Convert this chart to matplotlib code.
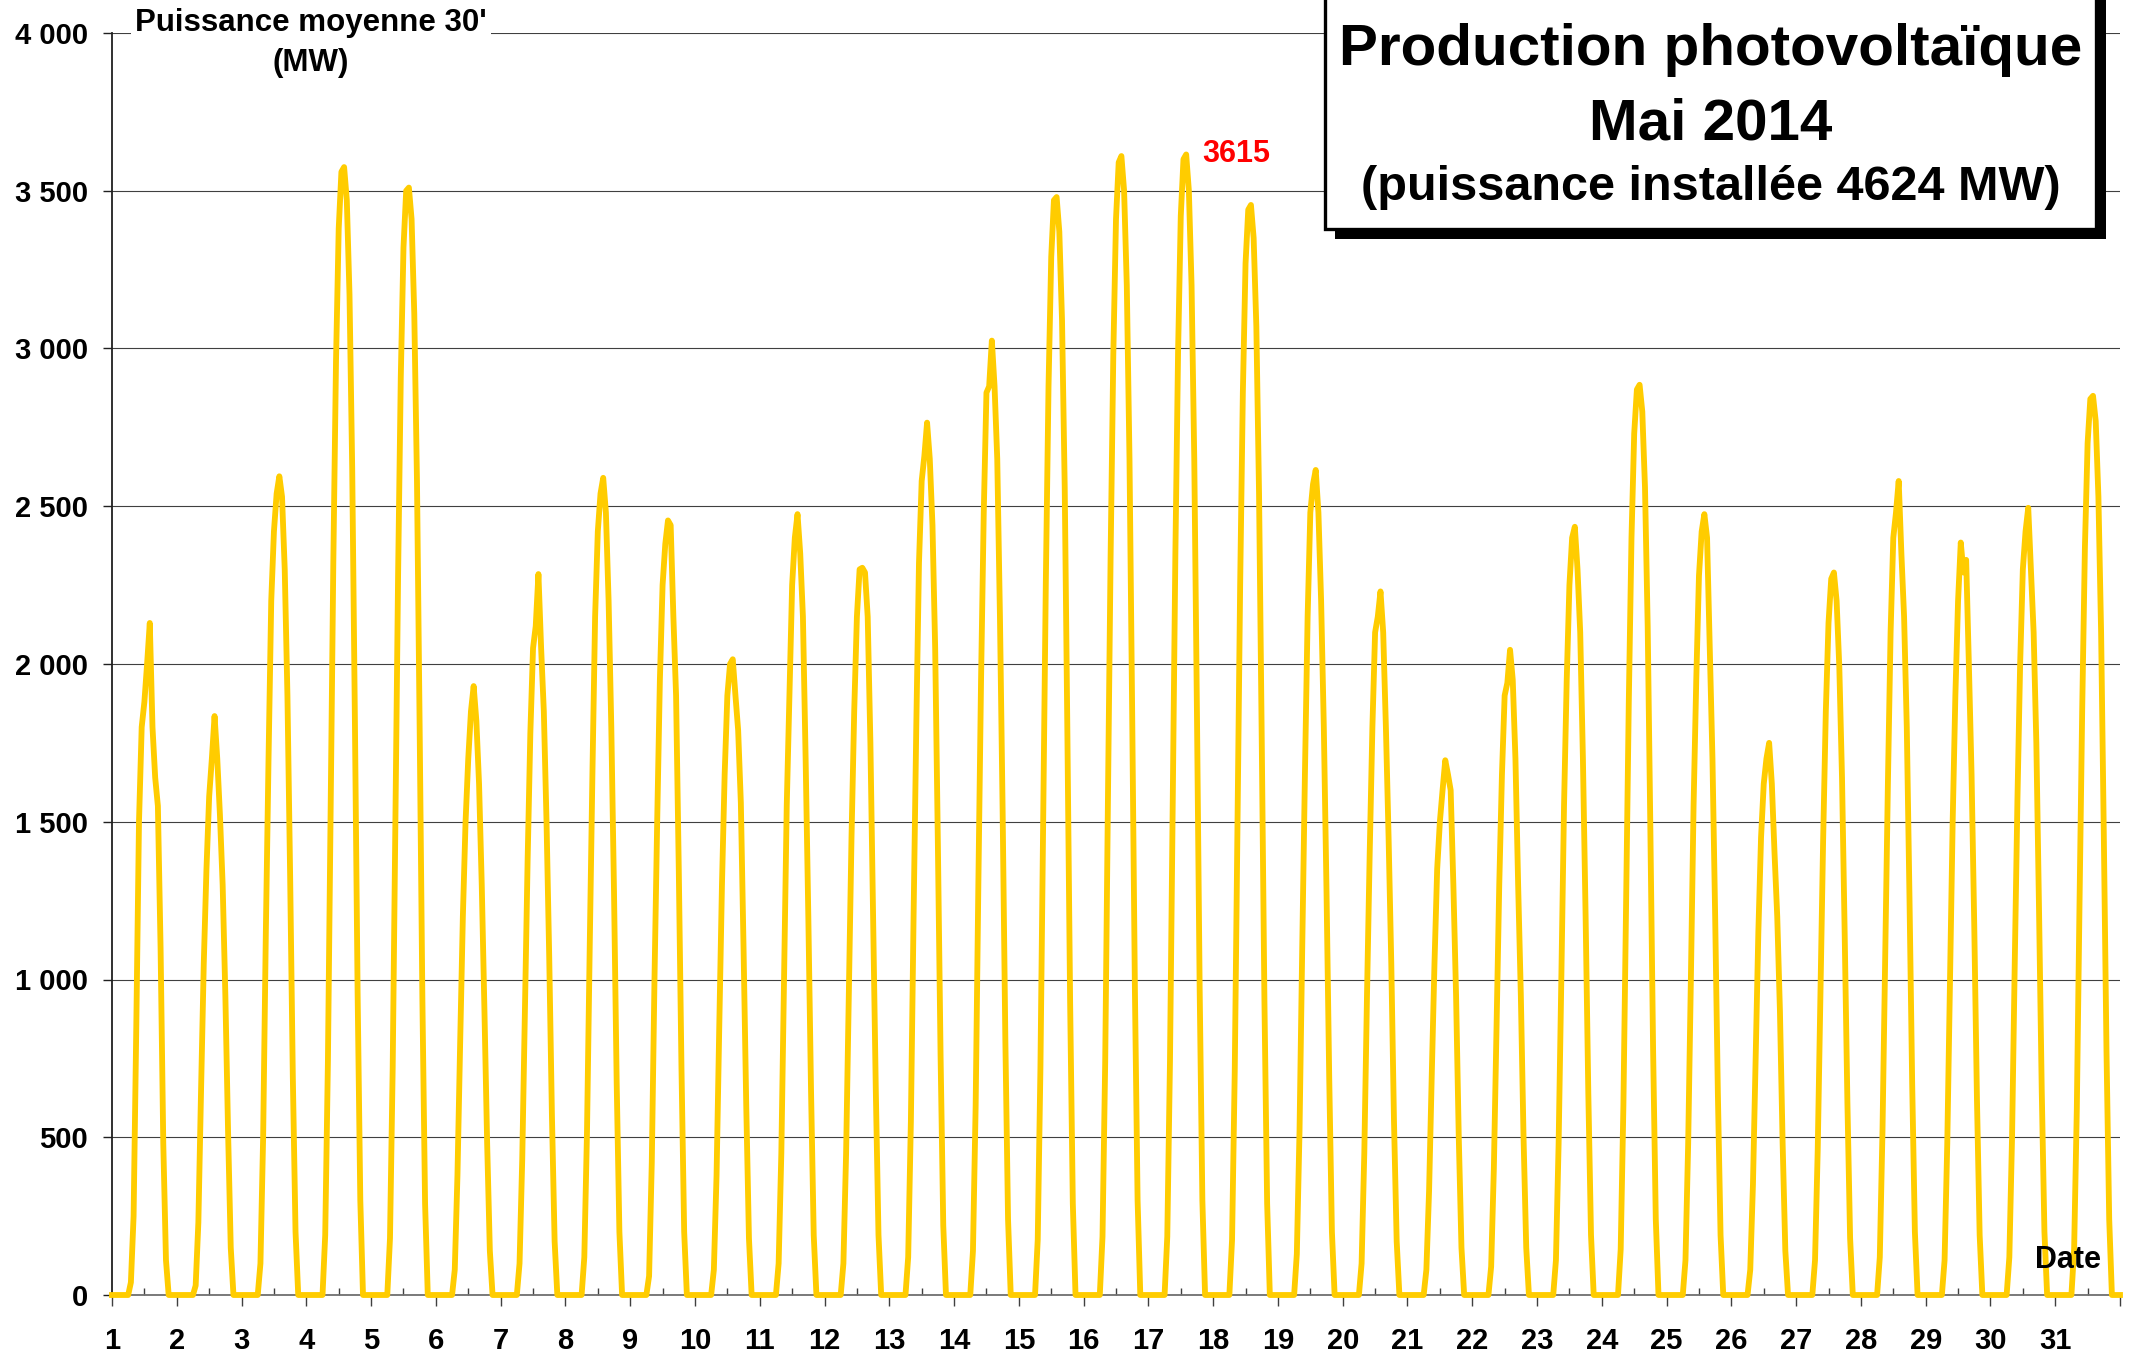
import matplotlib
matplotlib.use("Agg")
import matplotlib.pyplot as plt
from matplotlib.patches import Rectangle
from matplotlib.ticker import FuncFormatter
import numpy as np

plt.rcParams['font.family'] = ['Liberation Sans', 'DejaVu Sans']
plt.rcParams['font.weight'] = 'bold'

# mean PV output (MW) read hour by hour, 6h..21h, one list per day of May 2014
hours = list(range(6, 22))
d01 = [0, 40, 250, 850, 1500, 1800, 1880, 2000, 2130, 1800, 1640, 1550, 1100, 480, 110, 0]
d02 = [0, 30, 230, 650, 1050, 1350, 1580, 1700, 1835, 1700, 1520, 1300, 950, 520, 150, 0]
d03 = [0, 100, 500, 1150, 1700, 2200, 2420, 2540, 2595, 2530, 2300, 1900, 1330, 690, 200, 0]
d04 = [0, 190, 740, 1540, 2320, 2960, 3380, 3560, 3575, 3470, 3170, 2620, 1820, 960, 300, 0]
d05 = [0, 180, 720, 1510, 2280, 2910, 3320, 3500, 3510, 3410, 3110, 2580, 1790, 940, 290, 0]
d06 = [0, 80, 380, 800, 1200, 1500, 1700, 1850, 1930, 1820, 1620, 1300, 900, 480, 140, 0]
d07 = [0, 100, 430, 900, 1380, 1780, 2050, 2120, 2285, 2050, 1850, 1500, 1070, 570, 170, 0]
d08 = [0, 120, 520, 1100, 1650, 2150, 2420, 2540, 2590, 2480, 2200, 1800, 1280, 670, 200, 0]
d09 = [0, 60, 420, 1000, 1500, 1950, 2250, 2380, 2455, 2440, 2150, 1900, 1350, 720, 200, 0]
d10 = [0, 80, 380, 850, 1300, 1650, 1900, 2000, 2015, 1900, 1790, 1560, 1100, 600, 180, 0]
d11 = [0, 100, 450, 1000, 1550, 1900, 2250, 2400, 2475, 2350, 2150, 1700, 1200, 650, 190, 0]
d12 = [0, 100, 450, 950, 1450, 1850, 2150, 2300, 2305, 2290, 2150, 1750, 1200, 650, 190, 0]
d13 = [0, 120, 550, 1200, 1800, 2320, 2580, 2660, 2765, 2650, 2440, 2050, 1430, 760, 220, 0]
d14 = [0, 140, 600, 1300, 1950, 2480, 2860, 2880, 3025, 2880, 2650, 2150, 1530, 810, 240, 0]
d15 = [0, 175, 720, 1500, 2260, 2880, 3290, 3470, 3480, 3370, 3090, 2560, 1770, 930, 290, 0]
d16 = [0, 185, 740, 1560, 2340, 2980, 3410, 3590, 3610, 3500, 3200, 2650, 1840, 970, 300, 0]
d17 = [0, 185, 740, 1560, 2350, 2990, 3420, 3600, 3615, 3500, 3200, 2650, 1840, 970, 300, 0]
d18 = [0, 175, 710, 1490, 2250, 2860, 3270, 3440, 3455, 3350, 3070, 2540, 1760, 930, 290, 0]
d19 = [0, 130, 520, 1100, 1650, 2150, 2480, 2570, 2615, 2480, 2200, 1800, 1280, 690, 200, 0]
d20 = [0, 100, 450, 950, 1400, 1800, 2100, 2150, 2230, 2100, 1800, 1450, 1050, 550, 170, 0]
d21 = [0, 80, 330, 700, 1050, 1350, 1500, 1600, 1695, 1650, 1600, 1300, 950, 500, 150, 0]
d22 = [0, 90, 400, 850, 1300, 1650, 1900, 1940, 2045, 1950, 1700, 1300, 950, 500, 150, 0]
d23 = [0, 110, 480, 1000, 1550, 1950, 2250, 2400, 2435, 2300, 2100, 1700, 1200, 640, 190, 0]
d24 = [0, 145, 600, 1250, 1880, 2400, 2730, 2870, 2885, 2800, 2560, 2120, 1470, 780, 240, 0]
d25 = [0, 110, 480, 1000, 1550, 1950, 2280, 2420, 2475, 2400, 2050, 1700, 1200, 640, 190, 0]
d26 = [0, 80, 350, 750, 1150, 1450, 1620, 1700, 1750, 1620, 1400, 1200, 900, 480, 140, 0]
d27 = [0, 110, 460, 960, 1440, 1850, 2130, 2270, 2290, 2200, 1990, 1640, 1140, 610, 180, 0]
d28 = [0, 120, 520, 1080, 1620, 2100, 2400, 2480, 2580, 2350, 2150, 1800, 1260, 670, 200, 0]
d29 = [0, 110, 480, 1000, 1500, 1900, 2200, 2385, 2290, 2330, 2000, 1650, 1170, 620, 190, 0]
d30 = [0, 120, 500, 1050, 1570, 2000, 2300, 2420, 2495, 2300, 2100, 1750, 1220, 650, 200, 0]
d31 = [0, 145, 590, 1240, 1860, 2370, 2700, 2840, 2850, 2770, 2530, 2100, 1460, 770, 240, 0]

day_values = [d01, d02, d03, d04, d05, d06, d07, d08, d09, d10, d11, d12, d13, d14, d15, d16,
              d17, d18, d19, d20, d21, d22, d23, d24, d25, d26, d27, d28, d29, d30, d31]
day_labels = [str(d) for d in range(1, 32)]

max_value = 3615
max_day = 18.35  # where the label sits

# one continuous series, midnight of each day = integer x
xs, ys = [], []
for i, vals in enumerate(day_values):
    d = i + 1
    xs.append(d)
    ys.append(0)
    for h, v in zip(hours, vals):
        xs.append(d + h / 24)
        ys.append(v)
xs.append(len(day_values) + 1)
ys.append(0)

W, H = 2138, 1358
fig = plt.figure(figsize=(W / 100, H / 100), dpi=100)
ax = fig.add_axes([112 / W, 63 / H, 2008 / W, 1262 / H])

ax.plot(xs, ys, color='#FFCC00', lw=4.2, clip_on=False, zorder=3, solid_joinstyle='round')

ax.set_xlim(1, 32)
ax.set_ylim(0, 4000)
ax.set_yticks(range(0, 4001, 500))
ax.yaxis.set_major_formatter(FuncFormatter(lambda v, p: f"{int(v):,}".replace(",", " ")))
ax.set_xticks(range(1, 33))
ax.set_xticklabels(day_labels + [''])
ax.set_xticks(np.arange(1.5, 32, 1), minor=True)

ax.tick_params(axis='x', which='major', direction='out', length=8, width=1,
               color='#404040', pad=15, labelsize=21)
ax.tick_params(axis='x', which='minor', direction='in', length=5, width=1, color='#404040')
ax.tick_params(axis='y', direction='out', length=6.5, width=1, color='#202020',
               pad=11, labelsize=21)

ax.grid(axis='y', color='#404040', lw=0.8)
ax.set_axisbelow(True)
for s in ['top', 'right']:
    ax.spines[s].set_visible(False)
ax.spines['left'].set_color('#202020')
ax.spines['left'].set_linewidth(1.3)
ax.spines['bottom'].set_color('#707070')
ax.spines['bottom'].set_linewidth(1.3)

# annotations
ax.text(max_day, max_value, str(max_value), color='red', fontsize=22,
        ha='center', va='center')
ax.text(31.2, 110, 'Date', fontsize=22, ha='center', va='center')

fig.text(311 / W, 1 - 23 / H, "Puissance moyenne 30'", fontsize=22.5, ha='center', va='center',
         bbox=dict(facecolor='white', edgecolor='none', pad=3))
fig.text(311 / W, 1 - 63 / H, "(MW)", fontsize=22.5, ha='center', va='center')

# title box with drop shadow
bx, by, bw, bh = 1325 / W, 1 - 229 / H, 771 / W, 0.25
fig.add_artist(Rectangle((bx + 10 / W, by - 10 / H), bw, bh, transform=fig.transFigure,
                         facecolor='black', edgecolor='none', zorder=5))
fig.add_artist(Rectangle((bx, by), bw, bh, transform=fig.transFigure,
                         facecolor='white', edgecolor='black', lw=2.4, zorder=6))
cx = bx + bw / 2
fig.text(cx, 1 - 50 / H, "Production photovoltaïque", fontsize=42, ha='center', va='center', zorder=7)
fig.text(cx, 1 - 125 / H, "Mai 2014", fontsize=42, ha='center', va='center', zorder=7)
fig.text(cx, 1 - 188 / H, "(puissance installée 4624 MW)", fontsize=35, ha='center', va='center', zorder=7)

fig.savefig('out.png', dpi=100)
